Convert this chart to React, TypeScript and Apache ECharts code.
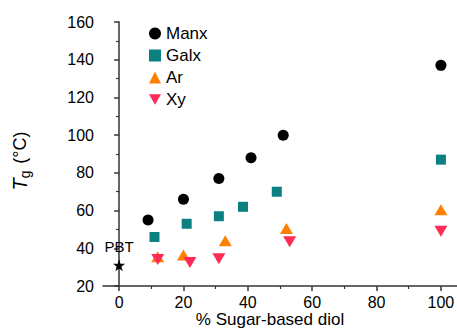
import React, { useEffect, useRef } from "react";
import * as echarts from "echarts";

const manx: [number, number][] = [[9, 55], [20, 66], [31, 77], [41, 88], [51, 100], [100, 137]];
const galx: [number, number][] = [[11, 46], [21, 53], [31, 57], [38.5, 62], [49, 70], [100, 87]];
const ar: [number, number][] = [[12, 35.5], [20, 36.5], [33, 44], [52, 50.5], [100, 60.5]];
const xy: [number, number][] = [[12, 34], [22, 32.5], [31, 34.5], [53, 43.5], [100, 49]];
const pbt: [number, number][] = [[0, 31]];

const FONT = "Liberation Sans, Arial, sans-serif";
const DOWN_TRI = "path://M0,0 L10,0 L5,8.7 Z";

export default function App() {
  const ref = useRef<HTMLDivElement>(null);
  useEffect(() => {
    const chart = echarts.init(ref.current!, null, { renderer: "svg" });
    const W = 354;
    const xMin = -5, xMax = 105;
    const pxPer = W / (xMax - xMin);
    const axisColor = "#333";
    chart.setOption({
      animation: false,
      textStyle: { fontFamily: FONT },
      grid: [
        { left: 103, top: 22, right: 0, bottom: 44, outerBoundsMode: "none", containLabel: false },
        { left: 103 + (0 - xMin) * pxPer, top: 22, right: (xMax - 100) * pxPer, bottom: 44, outerBoundsMode: "none", containLabel: false },
      ],
      legend: {
        orient: "vertical",
        left: 144,
        top: 20,
        itemGap: 5,
        itemWidth: 12,
        itemHeight: 12,
        textStyle: { fontSize: 17, color: "#000", fontFamily: FONT },
        data: ["Manx", "Galx", "Ar", "Xy"],
      },
      xAxis: [
        {
          type: "value",
          gridIndex: 0,
          min: xMin,
          max: xMax,
          axisLine: { show: true, lineStyle: { color: axisColor, width: 1.5 } },
          axisTick: { show: false },
          axisLabel: { show: false },
          splitLine: { show: false },
          name: "% Sugar-based diol",
          nameLocation: "middle",
          nameGap: 25,
          nameTextStyle: { fontSize: 17, color: "#000", fontFamily: FONT, padding: [0, 20, 0, 0] },
        },
        {
          type: "value",
          gridIndex: 1,
          min: 0,
          max: 100,
          interval: 20,
          axisLine: { show: false },
          axisTick: { show: true, length: 5, lineStyle: { color: axisColor, width: 1.5 } },
          minorTick: { show: true, splitNumber: 2, length: 3, lineStyle: { color: axisColor, width: 1.2 } },
          axisLabel: { fontSize: 16, color: "#000", margin: 8, fontFamily: FONT },
          splitLine: { show: false },
        },
      ],
      yAxis: [
        {
          type: "value",
          gridIndex: 0,
          min: 20,
          max: 160,
          interval: 20,
          axisLine: { show: true, lineStyle: { color: axisColor, width: 1.5 } },
          axisTick: { show: true, length: 5, lineStyle: { color: axisColor, width: 1.5 } },
          minorTick: { show: true, splitNumber: 2, length: 3, lineStyle: { color: axisColor, width: 1.2 } },
          axisLabel: { fontSize: 16, color: "#000", margin: 9, fontFamily: FONT },
          splitLine: { show: false },
          name: "{t|T}{s|g}  {n|(°C)}",
          nameLocation: "middle",
          nameRotate: 90,
          nameGap: 70,
          nameTextStyle: {
            color: "#000",
            fontFamily: FONT,
            padding: [0, 14, 0, 0],
            rich: {
              t: { fontSize: 20, fontStyle: "italic", fontFamily: FONT, color: "#000", lineHeight: 26 },
              s: { fontSize: 14, fontFamily: FONT, color: "#000", padding: [10, 0, 0, 0], lineHeight: 26 },
              n: { fontSize: 18, fontFamily: FONT, color: "#000", lineHeight: 26 },
            },
          },
        },
        { type: "value", gridIndex: 1, min: 20, max: 160, show: false },
      ],
      series: [
        { name: "Manx", type: "scatter", data: manx, symbol: "circle", symbolSize: 11, itemStyle: { color: "#000", opacity: 1 } },
        { name: "Galx", type: "scatter", data: galx, symbol: "rect", symbolSize: 10, itemStyle: { color: "#0b8080", opacity: 1 } },
        { name: "Ar", type: "scatter", data: ar, symbol: "triangle", symbolSize: [13, 11], itemStyle: { color: "#ff8000", opacity: 1 } },
        { name: "Xy", type: "scatter", data: xy, symbol: DOWN_TRI, symbolSize: [13, 11], itemStyle: { color: "#ff2a55", opacity: 1 } },
        {
          name: "PBT",
          type: "scatter",
          data: pbt,
          symbol: "path://M50,0 L61.8,36.2 L100,36.2 L69.1,58.8 L80.9,95.1 L50,72.6 L19.1,95.1 L30.9,58.8 L0,36.2 L38.2,36.2 Z",
          symbolSize: 12,
          itemStyle: { color: "#000", opacity: 1 },
          label: { show: true, position: "top", distance: 5, formatter: "PBT", fontSize: 15, color: "#000", fontFamily: FONT },
        },
      ],
    });
    return () => chart.dispose();
  }, []);
  return <div ref={ref} style={{ width: 457, height: 330, position: "absolute", left: 0, top: 0 }} />;
}
